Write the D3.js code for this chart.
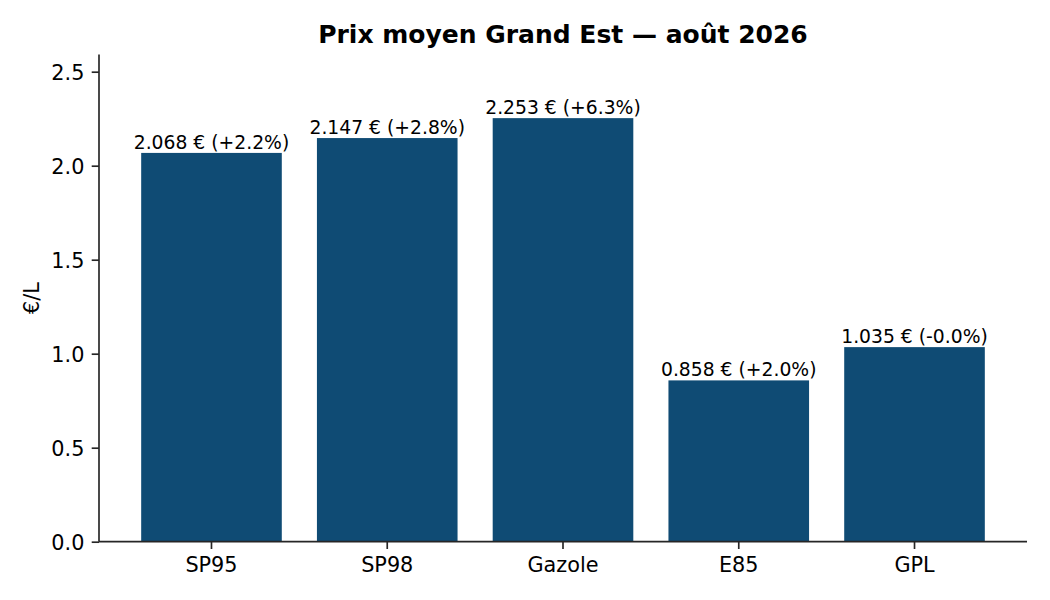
<!DOCTYPE html>
<html><head><meta charset="utf-8">
<script src="https://cdn.jsdelivr.net/npm/d3@7"></script>
<style>body{margin:0;background:#fff}svg{display:block}text{font-family:"DejaVu Sans",sans-serif}</style>
</head><body>
<svg id="c" width="1050" height="600"></svg>
<script>
const categories = ["SP95","SP98","Gazole","E85","GPL"];
const prices = [2.068, 2.147, 2.253, 0.858, 1.035];
const changes = ["+2.2%","+2.8%","+6.3%","+2.0%","-0.0%"];
const yTicks = [0.0, 0.5, 1.0, 1.5, 2.0, 2.5];
const title = "Prix moyen Grand Est — août 2026";
const yLabel = "€/L";

const W = 1050, H = 600;
const m = {left: 99, right: 1027, top: 54.6, bottom: 541.7};
const svg = d3.select("#c");
const axisColor = "#262626";
const barColor = "#0f4b74";

const x = d3.scaleBand().domain(categories).range([m.left, m.right]).paddingInner(0.2).paddingOuter(0.24);
const y = d3.scaleLinear().domain([0, d3.max(prices) * 1.15]).range([m.bottom, m.top]);

// bars
svg.append("g").selectAll("rect").data(categories).join("rect")
  .attr("x", d => x(d))
  .attr("width", x.bandwidth())
  .attr("y", (d, i) => y(prices[i]))
  .attr("height", (d, i) => y(0) - y(prices[i]))
  .attr("fill", barColor);

// value labels
svg.append("g").selectAll("text").data(categories).join("text")
  .attr("x", d => x(d) + x.bandwidth() / 2)
  .attr("y", (d, i) => y(prices[i]) - 4.2)
  .attr("text-anchor", "middle")
  .attr("font-size", 18.75)
  .attr("fill", "#000")
  .text((d, i) => prices[i].toFixed(3) + " € (" + changes[i] + ")");

// y axis
const ya = svg.append("g").attr("transform", `translate(${m.left},0)`)
  .call(d3.axisLeft(y).tickValues(yTicks).tickFormat(d3.format(".1f")).tickSize(7.3).tickPadding(7.3));
ya.select(".domain").attr("d", `M0,${m.top}V${m.bottom}`).attr("stroke", axisColor).attr("stroke-width", 1.67);
ya.selectAll(".tick line").attr("stroke", axisColor).attr("stroke-width", 1.67);
ya.selectAll(".tick text").attr("font-size", 20.8).attr("font-family", "DejaVu Sans").attr("fill", "#000").attr("dy", "0.36em");

// x axis
const xa = svg.append("g").attr("transform", `translate(0,${m.bottom})`)
  .call(d3.axisBottom(x).tickSize(7.3).tickPadding(7.3));
xa.select(".domain").attr("d", `M${m.left},0H${m.right}`).attr("stroke", axisColor).attr("stroke-width", 1.67);
xa.selectAll(".tick line").attr("stroke", axisColor).attr("stroke-width", 1.67);
xa.selectAll(".tick text").attr("font-size", 20.8).attr("font-family", "DejaVu Sans").attr("fill", "#000").attr("dy", "0.74em");

// title
svg.append("text").attr("x", (m.left + m.right) / 2).attr("y", 43)
  .attr("text-anchor", "middle").attr("font-size", 25).attr("font-weight", "bold").attr("fill", "#000")
  .text(title);

// y label
svg.append("text").attr("transform", `translate(39,${(m.top + m.bottom) / 2}) rotate(-90)`)
  .attr("text-anchor", "middle").attr("font-size", 20.8).attr("fill", "#000")
  .text(yLabel);
</script>
</body></html>
